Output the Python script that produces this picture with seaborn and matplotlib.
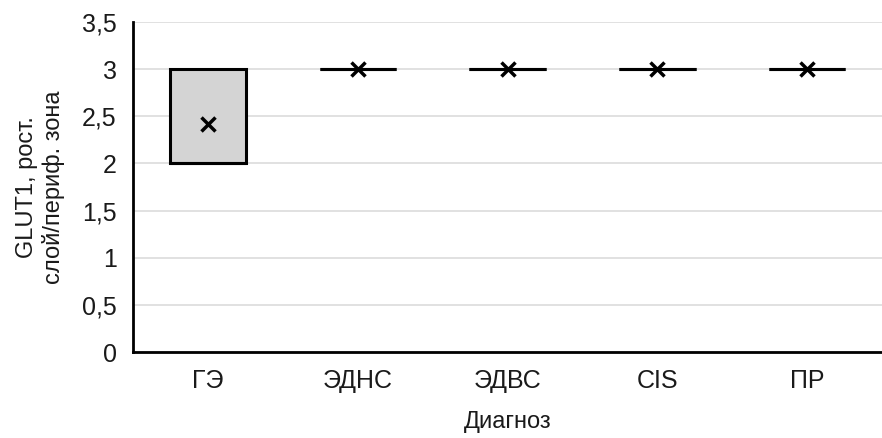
import numpy as np
import pandas as pd
import seaborn as sns
import matplotlib.pyplot as plt
from matplotlib.ticker import FuncFormatter

categories = ['ГЭ', 'ЭДНС', 'ЭДВС', 'CIS', 'ПР']
ge_values = [2, 2, 2, 2, 2, 2, 2, 3, 3, 3, 3, 3]
ednc_values = [3, 3, 3, 3]
edvc_values = [3, 3, 3, 3]
cis_values = [3, 3, 3]
pr_values = [3, 3, 3]
y_ticks = [0, 0.5, 1, 1.5, 2, 2.5, 3, 3.5]

groups = [ge_values, ednc_values, edvc_values, cis_values, pr_values]
rows = []
for cat, vals in zip(categories, groups):
    for v in vals:
        rows.append({'Диагноз': cat, 'value': v})
df = pd.DataFrame(rows)

sns.set_style('white')
plt.rcParams['font.family'] = ['Liberation Sans', 'DejaVu Sans']

fig = plt.figure(figsize=(8.82, 4.38), dpi=100)
ax = fig.add_axes([0.151, 0.196, 0.849, 0.754])

sns.boxplot(data=df, x='Диагноз', y='value', order=categories, ax=ax,
            color='#d4d4d4', linecolor='black', linewidth=2.2, width=0.51,
            whis=(0, 100), showcaps=False, showmeans=True,
            meanprops=dict(marker='x', markeredgecolor='black', markerfacecolor='black',
                           markersize=10, markeredgewidth=2.5),
            medianprops=dict(color='black', linewidth=2.2))

ax.set_ylim(0, 3.5)
ax.set_yticks(y_ticks)
ax.yaxis.set_major_formatter(FuncFormatter(lambda v, p: ('%g' % v).replace('.', ',')))
ax.set_xlim(-0.5, 4.5)
ax.grid(axis='y', color='#dcdcdc', linewidth=1.2)
ax.set_axisbelow(True)
for s in ['top', 'right']:
    ax.spines[s].set_visible(False)
for s in ['left', 'bottom']:
    ax.spines[s].set_color('black')
    ax.spines[s].set_linewidth(2)
ax.tick_params(axis='both', length=0, labelsize=18, colors='#1a1a1a', pad=12)
ax.tick_params(axis='x', pad=12)
ax.set_xlabel('Диагноз', fontsize=17, labelpad=13, color='#1a1a1a')
ax.set_ylabel('GLUT1, рост.\nслой/периф. зона', fontsize=17, labelpad=12, color='#1a1a1a',
              linespacing=1.25)

fig.savefig('out.png', dpi=100)
